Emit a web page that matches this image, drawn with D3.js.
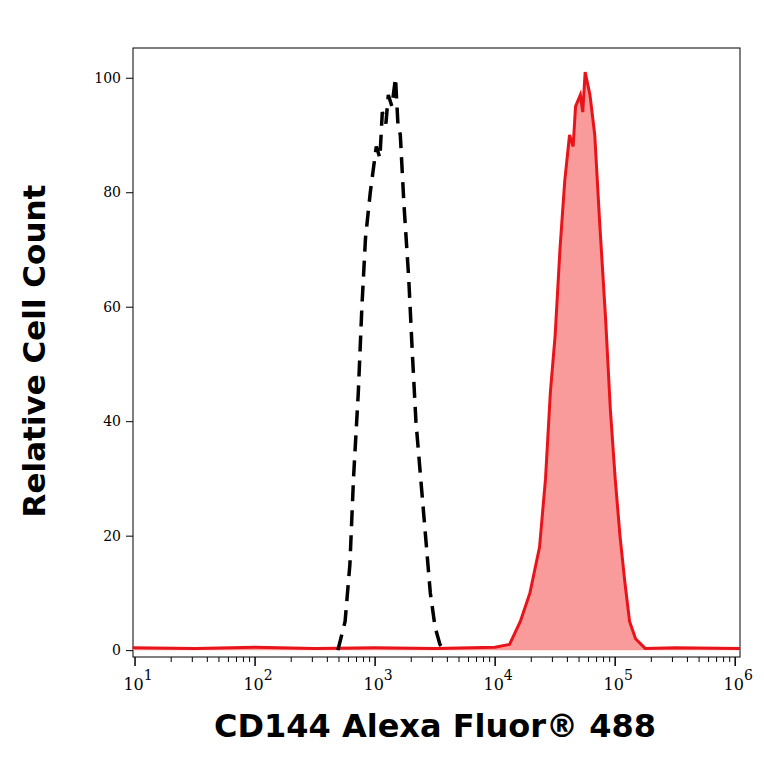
<!DOCTYPE html>
<html><head><meta charset="utf-8">
<script src="https://cdn.jsdelivr.net/npm/d3@7"></script>
<style>body{margin:0;background:#fff}</style>
</head><body>
<script>
// x values are log10 of fluorescence, y is relative count
var isoX = [2.69,2.75,2.79,2.82,2.86,2.89,2.92,2.96,3.01,3.04,3.06,3.09,3.11,3.14,3.17,3.19,3.21,3.24,3.28,3.31,3.34,3.38,3.42,3.46,3.50,3.54,3.58]
var isoY = [0,5,15,30,45,60,72,80,88,86,94,92,97,95,100,92,90,78,65,52,40,30,20,10,4,1,0]
var posX = [0.98,1.5,2.0,2.5,3.0,3.5,4.0,4.12,4.21,4.29,4.33,4.37,4.42,4.46,4.50,4.54,4.58,4.62,4.65,4.67,4.71,4.73,4.75,4.79,4.83,4.87,4.92,4.96,5.0,5.04,5.08,5.12,5.17,5.25,5.5,6.04]
var posY = [0.4,0.3,0.5,0.3,0.4,0.3,0.5,1,5,10,14,18,30,45,55,70,82,90,88,95,97,94,101,97,90,75,58,42,30,20,12,5,2,0.3,0.4,0.3]
var yTicks = [0,20,40,60,80,100]
var xDecades = [1,2,3,4,5,6]

var margin = {top: 48, left: 133, right: 24, bottom: 107},
    w = 764 - margin.left - margin.right,
    h = 764 - margin.top - margin.bottom

var svg = d3.select("body").append("svg").attr("width", 764).attr("height", 764)
var g = svg.append("g").attr("transform", `translate(${margin.left},${margin.top})`)

var x = d3.scaleLinear().domain([0.983, 6.04]).range([0, w])
var y = d3.scaleLinear().domain([-1.2, 105.2]).range([h, 0])

g.append("rect").attr("width", w).attr("height", h).attr("fill", "none").attr("stroke", "#000").attr("stroke-width", 1)

var pos = posX.map((v, i) => [v, posY[i]])
var iso = isoX.map((v, i) => [v, isoY[i]])

g.append("path").datum(pos)
  .attr("d", d3.area().x(d => x(d[0])).y0(y(0)).y1(d => y(d[1])))
  .attr("fill", "#fa9b9b")
g.append("path").datum(pos)
  .attr("d", d3.line().x(d => x(d[0])).y(d => y(d[1])))
  .attr("fill", "none").attr("stroke", "#e8141a").attr("stroke-width", 3)
g.append("path").datum(iso)
  .attr("d", d3.line().x(d => x(d[0])).y(d => y(d[1])))
  .attr("fill", "none").attr("stroke", "#000").attr("stroke-width", 3.5)
  .attr("stroke-dasharray", "16,9")

// y axis
var ya = g.append("g").call(d3.axisLeft(y).tickValues(yTicks).tickSize(7).tickPadding(5))
ya.select(".domain").remove()
ya.selectAll("text").style("font-family", "DejaVu Serif").style("font-size", "14px")

// x axis with minor ticks
var minor = []
xDecades.forEach(d => { if (d < 6) for (var k = 2; k < 10; k++) minor.push(d + Math.log10(k)) })
var xa = g.append("g").attr("transform", `translate(0,${h})`)
xa.selectAll(".mn").data(minor).enter().append("line")
  .attr("x1", d => x(d)).attr("x2", d => x(d)).attr("y1", 0).attr("y2", 5).attr("stroke", "#000")
xa.selectAll(".mj").data(xDecades).enter().append("line")
  .attr("x1", d => x(d)).attr("x2", d => x(d)).attr("y1", 0).attr("y2", 9).attr("stroke", "#000").attr("stroke-width", 1.5)
var lab = xa.selectAll(".lb").data(xDecades).enter().append("text")
  .attr("x", d => x(d) + 3).attr("y", 33).attr("text-anchor", "middle")
  .style("font-family", "DejaVu Serif").style("font-size", "16px")
lab.append("tspan").text("10")
lab.append("tspan").attr("dy", -10).style("font-size", "14px").text(d => d)

svg.append("text").attr("transform", "translate(45,351) rotate(-90)").attr("text-anchor", "middle")
  .style("font-family", "DejaVu Sans").style("font-weight", "bold").style("font-size", "31px").text("Relative Cell Count")
svg.append("text").attr("x", 435).attr("y", 737).attr("text-anchor", "middle")
  .style("font-family", "DejaVu Sans").style("font-weight", "bold").style("font-size", "32px").text("CD144 Alexa Fluor® 488")
</script>
</body></html>
